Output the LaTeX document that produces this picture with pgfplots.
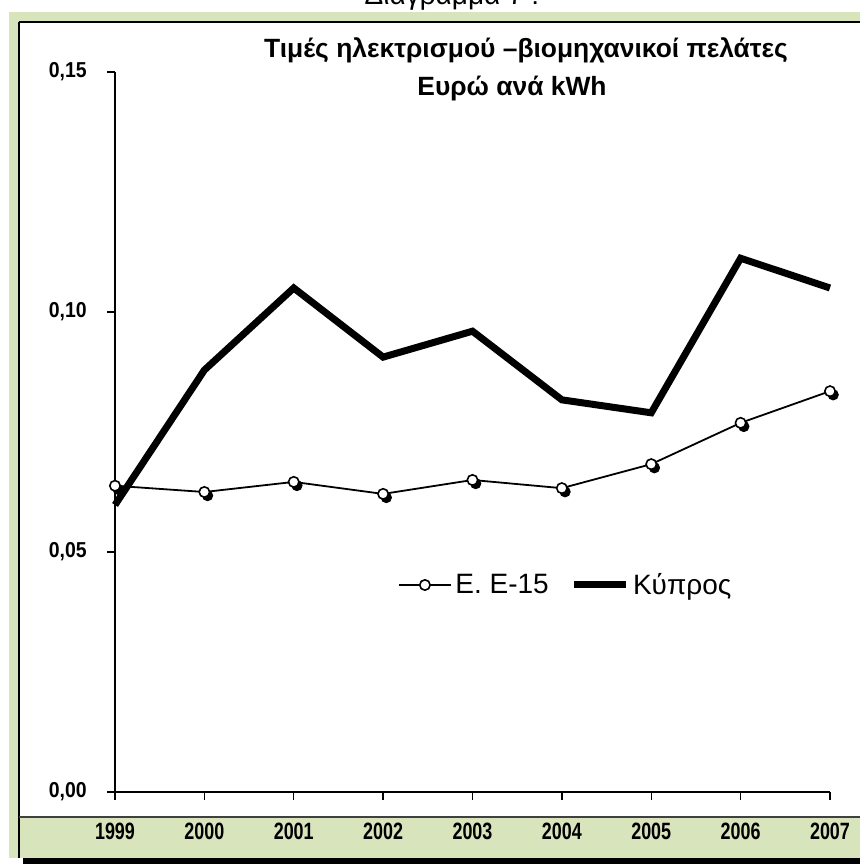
\documentclass[border=0pt]{standalone}
\usepackage{fontspec}
\setmainfont{Liberation Sans}
\newfontfamily\narrowsans[FakeStretch=0.76]{Liberation Sans}
\newfontfamily\ysans[FakeStretch=0.9]{Liberation Sans}
\usepackage{pgfplots}
\pgfplotsset{compat=1.18}
\definecolor{frameg}{RGB}{216,228,188}

\begin{document}
\begin{tikzpicture}
\begin{scope}[x=0.5pt,y=-0.5pt,shift={(0pt,432pt)}]
 \fill[frameg] (9,12) rectangle (880,858);
 \fill[white] (19,22) rectangle (880,817);
 \fill[black] (23,858) rectangle (880,880);
 \draw[line width=1pt] (19,22) -- (880,22);
 \draw[line width=1pt] (19,22) -- (19,858);
 \draw[line width=0.6pt, black!75] (19,817) -- (880,817);
 \node[anchor=base, inner sep=0pt, font=\fontsize{14}{16}\selectfont] at (452,5) {Διάγραμμα 7 :};
 \node[anchor=base, inner sep=0pt, font=\bfseries\fontsize{13.2}{15}\selectfont] at (526,58) {Τιμές ηλεκτρισμού –βιομηχανικοί πελάτες};
 \node[anchor=base, inner sep=0pt, font=\bfseries\fontsize{13.2}{15}\selectfont] at (512,96) {Ευρώ ανά kWh};
\end{scope}

\begin{axis}[
 at={(57.5pt,36pt)}, anchor=south west, scale only axis,
 width=357.5pt, height=360pt,
 xmin=1999, xmax=2007, ymin=0, ymax=0.15, clip=false,
 axis lines*=left, axis line style={line width=0.7pt},
 tick align=outside, major tick length=4pt, tick style={black, line width=0.7pt},
 xtick={1999,2000,2001,2002,2003,2004,2005,2006,2007},
 xticklabels={1999,2000,2001,2002,2003,2004,2005,2006,2007},
 ytick={0,0.05,0.1,0.15},
 yticklabels={{0,00},{0,05},{0,10},{0,15}},
 xticklabel style={font=\narrowsans\bfseries\fontsize{11.8}{13}\selectfont, anchor=base, inner sep=0pt, yshift=-19.5pt},
 yticklabel style={font=\ysans\bfseries\fontsize{10.8}{12}\selectfont, anchor=east, inner sep=0pt, xshift=-10pt},
 legend style={at={(rel axis cs:0.632,0.2875)}, anchor=center, draw=none, fill=none,
   font=\fontsize{14}{16}\selectfont, /tikz/every even column/.append style={column sep=9pt}},
 legend columns=2, legend cell align=left,
 legend image code/.code={\draw[mark repeat=2,mark phase=2,#1] plot coordinates {(0cm,0cm) (0.45cm,0cm) (0.9cm,0cm)};},
]
\addplot[only marks, mark=*, mark size=2.6pt, mark options={fill=black, draw=black, xshift=1.6pt, yshift=-1.8pt}, forget plot]
 coordinates {(1999,0.0638)(2000,0.0625)(2001,0.0646)(2002,0.0621)(2003,0.0650)(2004,0.0633)(2005,0.0683)(2006,0.0769)(2007,0.0835)};
\addplot[black, line width=0.9pt, mark=*, mark size=2.6pt, mark options={fill=white, draw=black, line width=0.8pt}]
 coordinates {(1999,0.0638)(2000,0.0625)(2001,0.0646)(2002,0.0621)(2003,0.0650)(2004,0.0633)(2005,0.0683)(2006,0.0769)(2007,0.0835)};
\addlegendentry{Ε. Ε-15}
\addplot[black, line width=3.5pt, mark=none]
 coordinates {(1999,0.0598)(2000,0.0879)(2001,0.1050)(2002,0.0906)(2003,0.0960)(2004,0.0817)(2005,0.0790)(2006,0.1112)(2007,0.1050)};
\addlegendentry{Κύπρος}
\end{axis}
\pgfresetboundingbox
\useasboundingbox (0,0) rectangle (430pt,432pt);
\end{tikzpicture}
\end{document}
